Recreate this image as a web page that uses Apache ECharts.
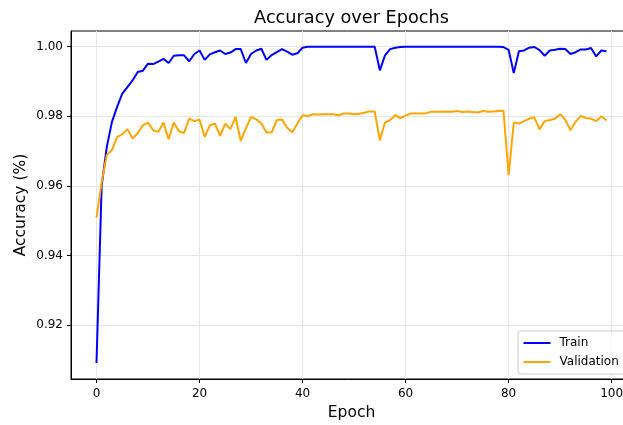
<!DOCTYPE html>
<html>
<head>
<meta charset="utf-8">
<script src="https://cdn.jsdelivr.net/npm/echarts@6/dist/echarts.min.js"></script>
<style>
  html, body { margin: 0; padding: 0; background: #fff; }
  #chart { width: 623px; height: 425px; }
</style>
</head>
<body>
<div id="chart"></div>
<script>
const trainAcc = [
  0.9091, 0.9600, 0.9712, 0.9784, 0.9827, 0.9865, 0.9884, 0.9903, 0.9927, 0.9931,
  0.9951, 0.9950, 0.9957, 0.9965, 0.9953, 0.9974, 0.9975, 0.9975, 0.9958, 0.9979,
  0.9989, 0.9962, 0.9978, 0.9984, 0.9989, 0.9979, 0.9983, 0.9993, 0.9993, 0.9953,
  0.9979, 0.9989, 0.9994, 0.9962, 0.9976, 0.9984, 0.9993, 0.9986, 0.9977, 0.9981,
  0.9997, 1.0000, 1.0000, 1.0000, 1.0000, 1.0000, 1.0000, 1.0000, 1.0000, 1.0000,
  1.0000, 1.0000, 1.0000, 1.0000, 1.0000, 0.9932, 0.9975, 0.9993, 0.9997, 0.9999,
  1.0000, 1.0000, 1.0000, 1.0000, 1.0000, 1.0000, 1.0000, 1.0000, 1.0000, 1.0000,
  1.0000, 1.0000, 1.0000, 1.0000, 1.0000, 1.0000, 1.0000, 1.0000, 1.0000, 0.9999,
  0.9991, 0.9924, 0.9987, 0.9989, 0.9997, 0.9999, 0.9990, 0.9974, 0.9989, 0.9991,
  0.9994, 0.9993, 0.9979, 0.9984, 0.9992, 0.9992, 0.9996, 0.9972, 0.9989, 0.9987
];
const valAcc = [
  0.9509, 0.9610, 0.9689, 0.9703, 0.9741, 0.9748, 0.9763, 0.9736, 0.9751, 0.9774,
  0.9782, 0.9760, 0.9755, 0.9782, 0.9734, 0.9782, 0.9757, 0.9752, 0.9793, 0.9786,
  0.9790, 0.9741, 0.9774, 0.9779, 0.9744, 0.9779, 0.9763, 0.9798, 0.9729, 0.9765,
  0.9798, 0.9791, 0.9779, 0.9753, 0.9754, 0.9789, 0.9791, 0.9767, 0.9754, 0.9779,
  0.9803, 0.9800, 0.9806, 0.9805, 0.9806, 0.9806, 0.9806, 0.9803, 0.9808, 0.9808,
  0.9806, 0.9807, 0.9810, 0.9814, 0.9814, 0.9731, 0.9782, 0.9789, 0.9803, 0.9795,
  0.9802, 0.9808, 0.9808, 0.9808, 0.9809, 0.9813, 0.9813, 0.9813, 0.9814, 0.9813,
  0.9815, 0.9812, 0.9814, 0.9812, 0.9811, 0.9815, 0.9813, 0.9814, 0.9815, 0.9816,
  0.9631, 0.9782, 0.9779, 0.9786, 0.9793, 0.9797, 0.9762, 0.9786, 0.9789, 0.9793,
  0.9806, 0.9790, 0.9760, 0.9784, 0.9801, 0.9795, 0.9793, 0.9786, 0.9800, 0.9788
];
const xTicks = [0, 20, 40, 60, 80, 100];
const yTicks = [0.92, 0.94, 0.96, 0.98, 1.00];
const seriesNames = ['Train', 'Validation'];
const titleText = 'Accuracy over Epochs';
const xLabel = 'Epoch';
const yLabel = 'Accuracy (%)';

const FONT = 'DejaVu Sans';
const toPairs = arr => arr.map((v, i) => [i, v]);

const chart = echarts.init(document.getElementById('chart'), null, { renderer: 'canvas' });
chart.setOption({
  animation: false,
  backgroundColor: '#ffffff',
  textStyle: { fontFamily: FONT },
  grid: {
    left: 71, top: 31, width: 561, height: 348,
    containLabel: false, outerBoundsMode: 'none',
    show: true, borderColor: '#000', borderWidth: 1, backgroundColor: 'transparent'
  },
  xAxis: {
    type: 'value', min: -4.95, max: 103.95,
    axisLine: { show: true, onZero: false, lineStyle: { color: '#000', width: 1 } },
    axisTick: { show: true, length: 4, lineStyle: { color: '#000' }, customValues: xTicks },
    axisLabel: { customValues: xTicks, color: '#000', fontSize: 12, fontFamily: FONT, margin: 9 },
    splitLine: { show: true, lineStyle: { color: '#e6e6e6', width: 1 } }
  },
  yAxis: {
    type: 'value', min: 0.9045, max: 1.0045,
    axisLine: { show: true, onZero: false, lineStyle: { color: '#000', width: 1 } },
    axisTick: { show: true, length: 4, lineStyle: { color: '#000' }, customValues: yTicks },
    axisLabel: { customValues: yTicks, color: '#000', fontSize: 12, fontFamily: FONT, margin: 8,
      formatter: v => v.toFixed(2) },
    splitLine: { show: true, lineStyle: { color: '#e6e6e6', width: 1 } }
  },
  legend: {
    orient: 'vertical', left: 518, top: 331,
    data: seriesNames,
    padding: [6, 10, 6, 4.5], itemGap: 7, itemWidth: 27, itemHeight: 14,
    borderColor: '#cccccc', borderWidth: 1, borderRadius: 3,
    backgroundColor: 'rgba(255,255,255,0.8)',
    itemStyle: { opacity: 0, borderWidth: 0 },
    textStyle: { fontSize: 12, fontFamily: FONT, color: '#000', padding: [0, 0, 0, 4] }
  },
  graphic: [
    { type: 'text', x: 351.5, y: 18, style: { text: titleText, font: '17.7px "DejaVu Sans"', fill: '#000', align: 'center', verticalAlign: 'middle' } },
    { type: 'text', x: 351.5, y: 413, style: { text: xLabel, font: '15.5px "DejaVu Sans"', fill: '#000', align: 'center', verticalAlign: 'middle' } },
    { type: 'text', x: 20.5, y: 205, rotation: Math.PI / 2, style: { text: yLabel, font: '15.5px "DejaVu Sans"', fill: '#000', align: 'center', verticalAlign: 'middle' } }
  ],
  series: [
    { name: seriesNames[0], type: 'line', data: toPairs(trainAcc), showSymbol: false, symbol: 'none',
      lineStyle: { color: '#0000ff', width: 2 }, itemStyle: { color: '#0000ff' } },
    { name: seriesNames[1], type: 'line', data: toPairs(valAcc), showSymbol: false, symbol: 'none',
      lineStyle: { color: '#ffa500', width: 2 }, itemStyle: { color: '#ffa500' } }
  ]
});
</script>
</body>
</html>
